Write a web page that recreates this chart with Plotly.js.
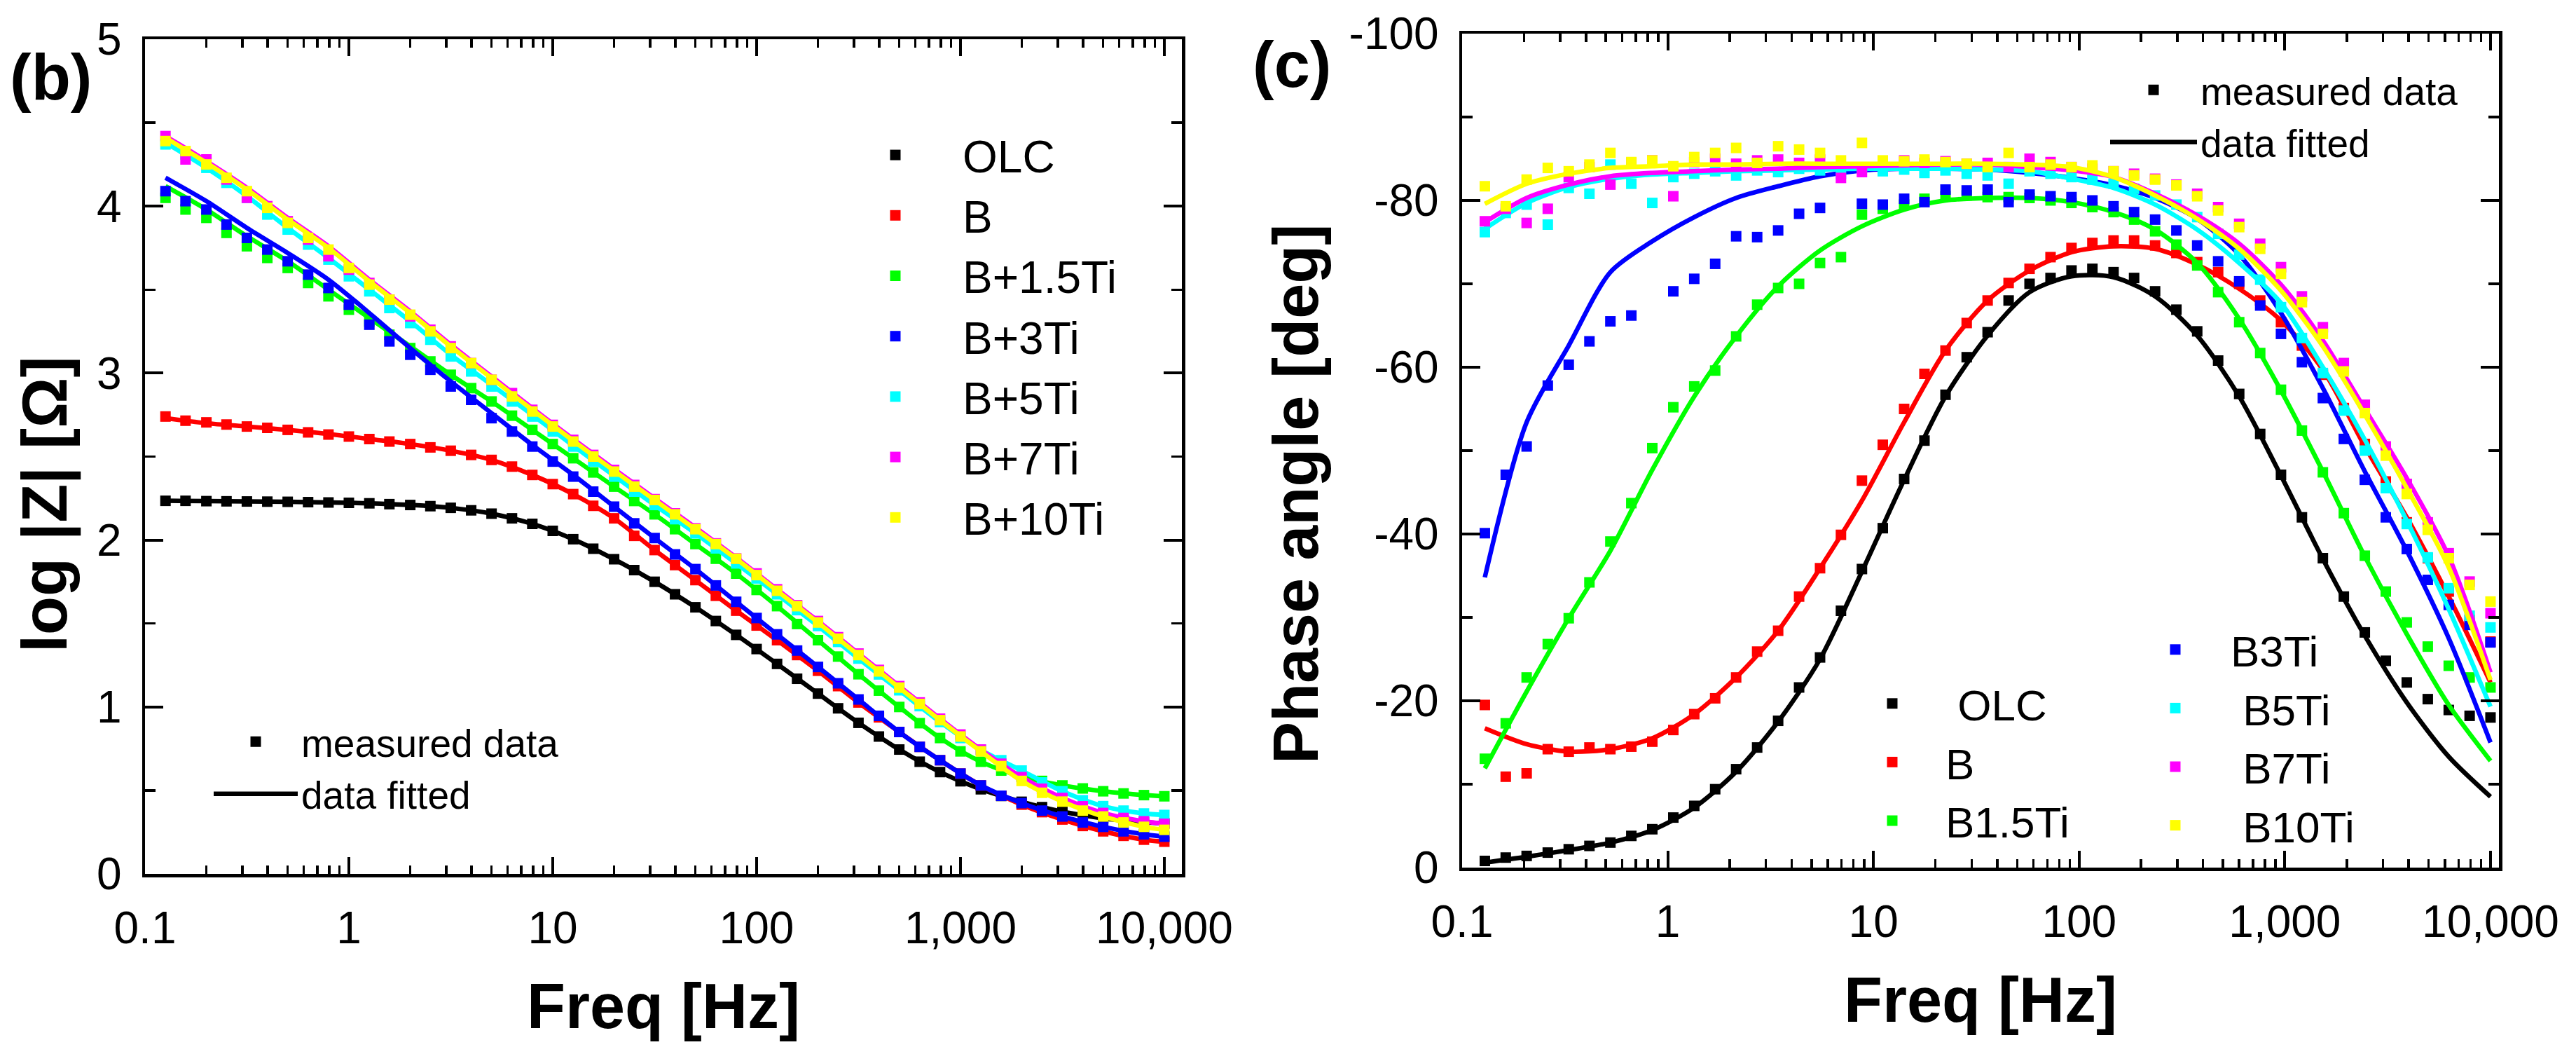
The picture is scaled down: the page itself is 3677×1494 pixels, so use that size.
<!DOCTYPE html>
<html>
<head>
<meta charset="utf-8">
<script src="https://cdn.plot.ly/plotly-3.0.1.min.js"></script>
<style>html,body{margin:0;padding:0;background:#fff;}#chart{width:3677px;height:1494px;}</style>
</head>
<body>
<div id="chart"></div>
<script>
// ---------- frequencies ----------
const freqZ = [0.126,0.158,0.2,0.251,0.316,0.398,0.501,0.631,0.794,1,1.26,1.58,2,2.51,3.16,3.98,5.01,6.31,7.94,10,12.6,15.8,20,25.1,31.6,39.8,50.1,63.1,79.4,100,126,158,200,251,316,398,501,631,794,1000,1259,1585,1995,2512,3162,3981,5012,6310,7943,10000];
const freqZfit = [0.126,0.2,0.316,0.501,0.794,1.26,2,3.16,5.01,7.94,12.6,20,31.6,50.1,79.4,126,200,316,501,794,1259,1995,3162,5012,7943,10000];
const freqP = [0.129,0.163,0.206,0.261,0.330,0.416,0.526,0.665,0.841,1.064,1.345,1.70,2.15,2.72,3.44,4.35,5.50,6.95,8.79,11.1,14.1,17.7,22.4,28.4,35.9,45.4,57.4,72.6,91.8,116,147,185,234,297,375,474,600,759,958,1211,1531,1936,2449,3097,3917,4955,6266,7915,10000];
const freqPfit = [0.129,0.206,0.330,0.526,0.841,1.345,2.15,3.44,5.50,8.79,14.1,22.4,35.9,57.4,91.8,147,234,375,600,958,1531,2449,3917,6266,10000];

// ---------- series names / colours ----------
const namesZ = ['OLC','B','B+1.5Ti','B+3Ti','B+5Ti','B+7Ti','B+10Ti'];
const namesP = ['\u00A0OLC','B','B1.5Ti','B3Ti','\u00A0B5Ti','\u00A0B7Ti','\u00A0B10Ti'];
const colors = ['#000000','#FF0000','#00FF00','#0000FF','#00FFFF','#FF00FF','#FFFF00'];

// ---------- (b) log|Z| measured ----------
const zOLC = [2.235,2.235,2.233,2.232,2.231,2.23,2.229,2.227,2.225,2.223,2.22,2.215,2.21,2.203,2.193,2.178,2.158,2.13,2.097,2.055,2.005,1.948,1.885,1.82,1.75,1.675,1.597,1.515,1.432,1.347,1.258,1.169,1.08,0.992,0.905,0.823,0.745,0.672,0.61,0.555,0.507,0.467,0.432,0.4,0.373,0.35,0.333,0.32,0.31,0.302];
const zB = [2.74,2.715,2.705,2.692,2.68,2.672,2.66,2.645,2.632,2.62,2.605,2.59,2.575,2.555,2.535,2.51,2.48,2.44,2.39,2.335,2.275,2.205,2.13,2.025,1.94,1.85,1.76,1.666,1.577,1.488,1.4,1.311,1.217,1.125,1.027,0.938,0.85,0.761,0.681,0.601,0.53,0.468,0.415,0.37,0.326,0.287,0.255,0.228,0.205,0.193];
const zB15 = [4.05,3.98,3.93,3.84,3.76,3.69,3.63,3.54,3.46,3.38,3.31,3.23,3.15,3.07,2.99,2.91,2.83,2.745,2.66,2.575,2.49,2.405,2.32,2.234,2.154,2.065,1.976,1.888,1.799,1.701,1.604,1.497,1.4,1.302,1.196,1.098,1.0,0.903,0.814,0.734,0.672,0.619,0.583,0.557,0.53,0.512,0.495,0.482,0.472,0.465];
const zB3 = [4.09,4.03,3.98,3.89,3.81,3.74,3.67,3.59,3.51,3.41,3.29,3.19,3.11,3.02,2.92,2.84,2.73,2.65,2.56,2.47,2.38,2.29,2.2,2.1,2.012,1.914,1.826,1.728,1.63,1.533,1.435,1.338,1.24,1.142,1.045,0.947,0.85,0.761,0.681,0.601,0.53,0.468,0.424,0.379,0.344,0.308,0.282,0.255,0.237,0.223];
const zB5 = [4.37,4.31,4.23,4.14,4.05,3.95,3.86,3.77,3.68,3.58,3.49,3.39,3.3,3.2,3.1,3.01,2.92,2.83,2.74,2.65,2.56,2.47,2.38,2.29,2.21,2.125,2.04,1.95,1.86,1.77,1.675,1.58,1.485,1.39,1.29,1.195,1.1,1.005,0.91,0.814,0.743,0.681,0.619,0.548,0.495,0.441,0.406,0.379,0.362,0.353];
const zB7 = [4.42,4.28,4.28,4.16,4.05,4.0,3.91,3.8,3.7,3.62,3.54,3.44,3.34,3.26,3.16,3.06,2.96,2.88,2.78,2.69,2.6,2.51,2.42,2.33,2.245,2.16,2.07,1.98,1.89,1.8,1.705,1.61,1.515,1.418,1.32,1.222,1.125,1.027,0.93,0.835,0.745,0.66,0.58,0.51,0.455,0.405,0.365,0.335,0.315,0.3];
const zB10 = [4.39,4.33,4.25,4.17,4.09,3.99,3.9,3.81,3.74,3.63,3.53,3.44,3.35,3.25,3.15,3.06,2.96,2.86,2.77,2.68,2.59,2.5,2.41,2.32,2.24,2.154,2.065,1.976,1.888,1.79,1.696,1.604,1.506,1.409,1.311,1.213,1.116,1.018,0.921,0.823,0.734,0.646,0.557,0.486,0.433,0.379,0.344,0.308,0.282,0.264];

// ---------- (b) log|Z| fitted ----------
const zOLCfit = [2.235,2.233,2.231,2.229,2.225,2.22,2.21,2.193,2.158,2.097,2.005,1.885,1.75,1.597,1.432,1.258,1.08,0.905,0.745,0.61,0.507,0.432,0.373,0.333,0.31,0.302];
const zBfit = [2.73,2.70,2.68,2.66,2.635,2.605,2.575,2.535,2.48,2.39,2.275,2.13,1.94,1.76,1.577,1.4,1.217,1.027,0.85,0.681,0.53,0.415,0.326,0.255,0.205,0.193];
const zB15fit = [4.12,3.98,3.82,3.67,3.5,3.33,3.16,2.99,2.83,2.66,2.49,2.32,2.154,1.976,1.799,1.604,1.4,1.196,1.0,0.814,0.672,0.583,0.53,0.495,0.472,0.465];
const zB3fit = [4.17,4.03,3.87,3.72,3.56,3.36,3.15,2.95,2.76,2.57,2.39,2.2,2.012,1.826,1.63,1.435,1.24,1.045,0.85,0.681,0.53,0.424,0.344,0.282,0.237,0.223];
const zB5fit = [4.38,4.23,4.06,3.87,3.69,3.5,3.31,3.11,2.93,2.75,2.565,2.385,2.21,2.04,1.86,1.675,1.485,1.29,1.1,0.91,0.743,0.619,0.495,0.406,0.362,0.353];
const zB7fit = [4.42,4.27,4.11,3.93,3.76,3.56,3.37,3.17,2.98,2.79,2.605,2.425,2.25,2.075,1.895,1.705,1.515,1.32,1.125,0.93,0.745,0.58,0.455,0.365,0.315,0.3];
const zB10fit = [4.41,4.26,4.1,3.92,3.75,3.55,3.36,3.16,2.97,2.78,2.595,2.415,2.24,2.065,1.888,1.696,1.506,1.311,1.116,0.921,0.734,0.557,0.433,0.344,0.282,0.264];

// ---------- (c) phase measured ----------
const pOLC = [-0.8,-1.2,-1.4,-1.8,-2.2,-2.6,-3.0,-3.8,-4.6,-6.0,-7.4,-9.4,-11.8,-14.4,-17.6,-21.6,-25.2,-30.8,-35.8,-40.7,-46.6,-51.2,-56.7,-61.2,-64.2,-68.0,-70.0,-70.7,-71.6,-71.8,-71.4,-70.7,-69.1,-66.9,-64.3,-60.8,-56.8,-52.0,-47.1,-42.0,-37.1,-32.5,-28.2,-24.8,-22.2,-20.2,-18.9,-18.2,-18.0];
const pB = [-19.5,-10.9,-11.3,-14.2,-13.9,-14.4,-14.2,-14.5,-15.1,-16.5,-18.4,-20.3,-22.8,-25.9,-28.4,-32.5,-35.9,-39.9,-46.4,-50.7,-55.0,-59.2,-62.0,-65.3,-68.0,-70.1,-71.8,-73.2,-74.3,-74.9,-75.2,-75.2,-74.6,-73.7,-72.6,-71.4,-70.0,-68.0,-65.4,-62.6,-59.1,-55.1,-50.8,-46.3,-41.4,-37.1,-33.1,-29.7,-27.1];
const pB15 = [-13.05,-17.3,-22.8,-26.8,-29.9,-34.2,-39.1,-43.7,-50.3,-55.2,-57.7,-59.6,-63.7,-67.5,-69.5,-70.0,-72.5,-73.2,-78.3,-79.0,-79.5,-80.2,-80.5,-80.6,-80.4,-80.4,-80.3,-80.0,-79.7,-79.2,-78.6,-77.7,-76.3,-74.7,-72.2,-69.0,-65.4,-61.7,-57.3,-52.4,-47.4,-42.5,-37.4,-33.1,-29.4,-26.5,-24.2,-22.8,-21.6];
const pB3 = [-40.1,-47.1,-50.5,-57.8,-60.3,-63.1,-65.5,-66.2,null,-69.1,-70.6,-72.4,-75.7,-75.6,-76.4,-78.4,-79.1,null,-79.6,-79.5,-80.2,-79.8,-81.3,-81.2,-81.3,-79.8,-80.7,-80.5,-80.4,-80.0,-79.3,-78.6,-77.7,-76.4,-74.6,-72.7,-70.3,-67.4,-64.0,-60.6,-56.3,-51.4,-46.5,-42.0,-38.2,-34.5,-31.5,-29.1,-27.0];
const pB5 = [-76.2,-78.5,-79.5,-77.1,-81.5,-80.8,-84.3,-82.0,-79.7,-82.8,-83.2,-83.5,-83.0,-83.6,-83.4,-83.8,-83.6,-83.2,-83.9,-83.5,-83.7,-83.3,-83.6,-83.2,-83.0,-82.0,-83.5,-83.2,-82.8,-82.5,-82.0,-81.4,-80.6,-79.5,-78.0,-76.0,-73.5,-70.5,-67.2,-63.5,-59.3,-54.8,-50.0,-45.5,-41.2,-37.2,-33.5,-30.2,-28.8];
const pB7 = [-77.5,-79.0,-77.3,-79.0,-82.8,-84.0,-81.9,-84.5,-84.8,-80.5,-84.6,-85.0,-84.4,-84.8,-84.9,-84.5,-84.9,-82.7,-83.4,-84.6,-84.8,-84.5,-84.7,-84.4,-84.5,-84.0,-85.0,-84.6,-84.0,-83.8,-83.5,-83.2,-82.6,-81.9,-80.8,-79.2,-77.2,-74.8,-72.0,-68.5,-64.8,-60.5,-55.5,-50.5,-46.0,-41.4,-37.7,-34.3,-30.5];
const pB10 = [-81.7,-79.3,-82.5,-83.9,-83.5,-84.3,-85.7,-84.6,-84.8,-84.1,-85.2,-85.7,-86.3,-84.5,-86.5,-86.1,-85.7,-84.8,-86.9,-84.8,-84.7,-84.9,-84.6,-84.4,-84.0,-85.7,-84.0,-84.3,-84.0,-84.2,-83.5,-83.0,-82.5,-81.8,-80.5,-78.8,-76.8,-74.2,-71.2,-67.8,-64.0,-59.5,-54.5,-49.4,-44.8,-40.5,-37.1,-33.9,-31.9];

// ---------- (c) phase fitted ----------
const pOLCfit = [-0.6,-1.3,-2.1,-3.0,-4.5,-7.2,-11.5,-17.5,-25.0,-35.5,-46.5,-56.5,-63.8,-69.0,-70.9,-70.8,-68.5,-63.8,-56.5,-47.0,-37.0,-27.8,-19.8,-13.3,-8.5];
const pBfit = [-16.7,-14.8,-13.9,-14.2,-15.5,-18.4,-22.8,-28.4,-35.9,-44.0,-53.4,-62.0,-68.0,-71.6,-73.8,-74.5,-74.2,-72.3,-69.4,-65.6,-59.7,-50.5,-42.0,-32.5,-22.2];
const pB15fit = [-11.9,-21.1,-29.9,-38.0,-47.7,-56.5,-63.7,-69.7,-74.0,-76.9,-78.9,-80.0,-80.3,-80.3,-79.8,-78.6,-76.5,-72.5,-65.8,-57.2,-47.5,-37.3,-28.0,-19.5,-12.8];
const pB3fit = [-34.8,-53.4,-62.6,-71.4,-75.1,-78.0,-80.3,-81.7,-82.9,-83.6,-83.8,-83.8,-83.7,-83.3,-82.7,-81.8,-80.3,-77.8,-73.5,-66.5,-57.5,-47.5,-38.0,-27.5,-15.0];
const pB5fit = [-76.6,-79.7,-81.6,-82.6,-83.1,-83.3,-83.5,-83.6,-83.7,-83.8,-83.8,-83.8,-83.7,-83.5,-82.6,-81.5,-79.5,-76.5,-72.5,-67.7,-60.0,-51.3,-41.6,-31.0,-19.3];
const pB7fit = [-77.4,-80.3,-81.9,-82.9,-83.3,-83.5,-83.7,-83.8,-84.0,-84.1,-84.2,-84.3,-84.3,-84.0,-83.6,-82.8,-80.8,-78.2,-74.8,-69.9,-63.2,-55.0,-46.7,-37.3,-23.4];
const pB10fit = [-79.6,-82.0,-83.2,-83.9,-84.1,-84.3,-84.3,-84.4,-84.4,-84.4,-84.4,-84.4,-84.4,-84.3,-84.0,-82.8,-80.6,-77.8,-74.2,-69.2,-62.5,-54.3,-45.5,-36.0,-22.5];

// ---------- axis tick labels ----------
const xTickVals = [0.1,1,10,100,1000,10000];
const xTickText = ['0.1','1','10','100','1,000','10,000'];
const xMinorVals = [0.2,0.3,0.4,0.5,0.6,0.7,0.8,0.9,2,3,4,5,6,7,8,9,20,30,40,50,60,70,80,90,200,300,400,500,600,700,800,900,2000,3000,4000,5000,6000,7000,8000,9000];
const yZTickVals = [0,1,2,3,4,5];
const yZTickText = ['0','1','2','3','4','5'];
const yPTickVals = [0,-20,-40,-60,-80,-100];
const yPTickText = ['0','-20','-40','-60','-80','-100'];

// ---------- build ----------
const FONT = 'Liberation Sans, Arial, Helvetica, sans-serif';
const W = 3677, H = 1494;
const zMeas = [zOLC,zB,zB15,zB3,zB5,zB7,zB10];
const zFit = [zOLCfit,zBfit,zB15fit,zB3fit,zB5fit,zB7fit,zB10fit];
const pMeas = [pOLC,pB,pB15,pB3,pB5,pB7,pB10];
const pFit = [pOLCfit,pBfit,pB15fit,pB3fit,pB5fit,pB7fit,pB10fit];
const MS = 15, LW = 6.5;

const traces = [];
for (let i = 0; i < 7; i++) {
  traces.push({x: freqZ, y: zMeas[i], xaxis:'x', yaxis:'y', mode:'markers', type:'scatter',
    marker:{symbol:'square', size:MS, color:colors[i], line:{width:0}},
    name: namesZ[i], legend:'legend', showlegend:true, hoverinfo:'skip'});
  traces.push({x: freqZfit, y: zFit[i], xaxis:'x', yaxis:'y', mode:'lines', type:'scatter',
    line:{color:colors[i], width:LW, shape:'spline', smoothing:0.8},
    showlegend:false, hoverinfo:'skip'});
}
for (let i = 0; i < 7; i++) {
  traces.push({x: freqP, y: pMeas[i], xaxis:'x2', yaxis:'y2', mode:'markers', type:'scatter',
    marker:{symbol:'square', size:MS, color:colors[i], line:{width:0}},
    name: namesP[i], legend: i < 3 ? 'legend3' : 'legend4', showlegend:true, hoverinfo:'skip'});
  traces.push({x: freqPfit, y: pFit[i], xaxis:'x2', yaxis:'y2', mode:'lines', type:'scatter',
    line:{color:colors[i], width:LW, shape:'spline', smoothing:0.8},
    showlegend:false, hoverinfo:'skip'});
}
// legend-only keys for measured / fitted
traces.push({x:[null], y:[null], xaxis:'x', yaxis:'y', mode:'markers', type:'scatter',
  marker:{symbol:'square', size:MS, color:'#000'}, name:'measured data', legend:'legend2'});
traces.push({x:[null], y:[null], xaxis:'x', yaxis:'y', mode:'lines', type:'scatter',
  line:{color:'#000', width:LW}, name:'data fitted', legend:'legend2'});
traces.push({x:[null], y:[null], xaxis:'x2', yaxis:'y2', mode:'markers', type:'scatter',
  marker:{symbol:'square', size:MS, color:'#000'}, name:'measured data', legend:'legend5'});
traces.push({x:[null], y:[null], xaxis:'x2', yaxis:'y2', mode:'lines', type:'scatter',
  line:{color:'#000', width:LW}, name:'data fitted', legend:'legend5'});

function xAxis(domain, range) {
  return {type:'log', domain: domain, range: range, showline:true, linewidth:4.5, linecolor:'#000',
    mirror:'allticks', ticks:'inside', ticklen:24, tickwidth:4, tickcolor:'#000',
    tickmode:'array', tickvals:xTickVals, ticktext:xTickText, ticklabelstandoff:18,
    tickfont:{family:FONT, size:64, color:'#000'},
    minor:{tickmode:'array', tickvals:xMinorVals, ticks:'inside', ticklen:12, tickwidth:3.5, tickcolor:'#000', showgrid:false},
    showgrid:false, zeroline:false, fixedrange:true,
    title:{text:'Freq [Hz]', font:{family:FONT, size:90, weight:'bold', color:'#000'}, standoff:46}};
}
function yAxis(domain, range, tv, tt, minorD, anchor) {
  return {domain: domain, range: range, anchor: anchor, showline:true, linewidth:4.5, linecolor:'#000',
    mirror:'allticks', ticks:'inside', ticklen:26, tickwidth:4, tickcolor:'#000',
    tickmode:'array', tickvals:tv, ticktext:tt, ticklabelstandoff:16,
    tickfont:{family:FONT, size:64, color:'#000'},
    minor:{dtick:minorD, ticks:'inside', ticklen:15, tickwidth:3.5, tickcolor:'#000', showgrid:false},
    showgrid:false, zeroline:false, fixedrange:true};
}
function leg(px, py, size, iw) {
  return {x: px / W, y: 1 - py / H, xanchor:'left', yanchor:'top', bgcolor:'rgba(0,0,0,0)',
    borderwidth:0, font:{family:FONT, size:size, color:'#000'}, itemwidth: iw, tracegroupgap:0,
    itemclick:false, itemdoubleclick:false};
}

const layout = {
  width: W, height: H, margin:{l:0, r:0, t:0, b:0}, paper_bgcolor:'#fff', plot_bgcolor:'#fff',
  font:{family:FONT, color:'#000'}, showlegend:true,
  xaxis: Object.assign(xAxis([207/W, 1687/W], [-1, 4.086]), {anchor:'y'}),
  yaxis: yAxis([(H-1247)/H, (H-56)/H], [0, 5], yZTickVals, yZTickText, 0.5, 'x'),
  xaxis2: Object.assign(xAxis([2087/W, 3567/W], [-1, 4.041]), {anchor:'y2'}),
  yaxis2: yAxis([(H-1238)/H, (H-48)/H], [0, -100], yPTickVals, yPTickText, 10, 'x2'),
  legend: leg(1182, 173, 64, 182),
  legend2: leg(300, 1016, 55, 120),
  legend3: leg(2625, 957, 62, 142),
  legend4: leg(3026, 880, 62, 148),
  legend5: leg(3007, 86, 55, 124),
  annotations: [
    {text:'<b>log |Z| [Ω]</b>', xref:'paper', yref:'paper', x:65/W, y:1-720/H, textangle:-90,
     showarrow:false, xanchor:'center', yanchor:'middle', font:{family:FONT, size:90, color:'#000'}},
    {text:'<b>Phase angle [deg]</b>', xref:'paper', yref:'paper', x:1850/W, y:1-705/H, textangle:-90,
     showarrow:false, xanchor:'center', yanchor:'middle', font:{family:FONT, size:90, color:'#000'}},
    {text:'<b>(b)</b>', xref:'paper', yref:'paper', x:72/W, y:1-110/H, showarrow:false,
     xanchor:'center', yanchor:'middle', font:{family:FONT, size:92, color:'#000'}},
    {text:'<b>(c)</b>', xref:'paper', yref:'paper', x:1844/W, y:1-92/H, showarrow:false,
     xanchor:'center', yanchor:'middle', font:{family:FONT, size:92, color:'#000'}}
  ]
};

Plotly.newPlot('chart', traces, layout, {displayModeBar:false, staticPlot:true});
</script>
</body>
</html>
